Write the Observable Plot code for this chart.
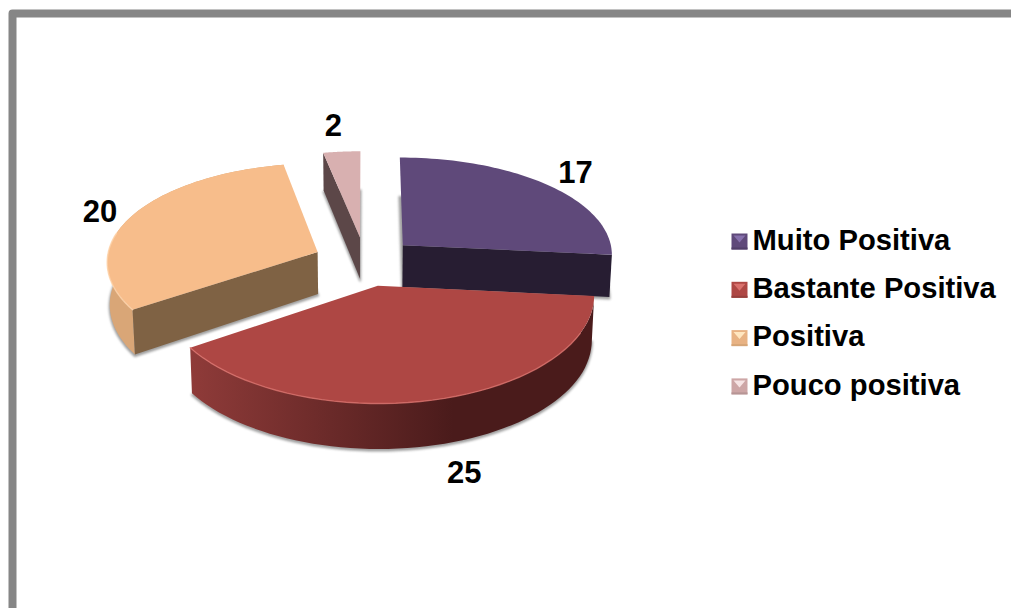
<!DOCTYPE html>
<html>
<head>
<meta charset="utf-8">
<script src="https://cdn.jsdelivr.net/npm/d3@7"></script>
<script src="https://cdn.jsdelivr.net/npm/@observablehq/plot@0.6"></script>
<style>html,body{margin:0;padding:0;background:#fff}svg{display:block}</style>
</head>
<body>
<div id="chart"></div>
<script>
const categories = ["Muito Positiva", "Bastante Positiva", "Positiva", "Pouco positiva"];
const values = [17, 25, 20, 2];

const topFills = ["#5F497A", "#AE4744", "#F7BD8B", "#D8B0B0"];
const faceFills = ["#271D32", "none", "#7F6244", "#5C4748"];
const arcFills = [null, "url(#redWall)", "#D9A677", null];
const edgeGlow = [null, "#D9706C", "#FFD6AE", null];
const swatchTop = ["#8670AC", "#D9706C", "#FFE6C0", "#F6E4E4"];
const swatchSide = ["#5F497A", "#AE4744", "#E8B283", "#CDA6A6"];
const swatchLow = ["#513E69", "#96403D", "#D6A678", "#B69595"];
const labelNudge = [[2, 0], [15, 47], [4, 3], [-5, -10]];

// view of the tilted pie
const view = {X0: 364.5, Y0: 260.8, A: 211, B: 100, kx: 0.086, ky: 0.105, depth: 42.5, maxDepth: 45.5, shrink: 0.99, explode: 0.245};
function project(u, v, low = false) {
  const wx = 1 - view.kx * v, wy = 1 - view.ky * v;
  let X = view.X0 + view.A * u / wx, Y = view.Y0 + view.B * v / wy;
  if (low) { X = view.X0 + (X - view.X0) * view.shrink; Y += Math.min(view.maxDepth, view.depth / wy); }
  return {x: X, y: Y};
}
const deg = Math.PI / 180;
const total = d3.sum(values);
let cum = 0;
const slices = values.map((value, i) => {
  const a0 = cum / total * 360; cum += value; const a1 = cum / total * 360;
  const mid = (a0 + a1) / 2;
  return {i, value, a0, a1, mid, ou: Math.sin(mid * deg) * view.explode, ov: -Math.cos(mid * deg) * view.explode};
});
const at = (s, theta, r = 1, low = false) =>
  project(s.ou + r * Math.sin(theta * deg), s.ov - r * Math.cos(theta * deg), low);
const arc = (s, low = false) => d3.range(0, 61).map(k => at(s, s.a0 + (s.a1 - s.a0) * k / 60, 1, low));
const topShape = s => [at(s, 0, 0), ...arc(s)];
const lowShape = s => [at(s, 0, 0, true), ...arc(s, true)];
const poly = (pts, fill, extra = {}) =>
  Plot.line(pts, {x: "x", y: "y", curve: "linear-closed", fill, stroke: "none", ...extra});

const pieMarks = [];
[...slices].sort((p, q) => p.ov - q.ov).forEach(s => {
  const i = s.i;
  pieMarks.push(poly(lowShape(s).map(p => ({x: p.x, y: p.y + 1.5})), "#8a8a8a",
    {stroke: "#8a8a8a", strokeWidth: 2.5, imageFilter: "blur(1.3px)", fillOpacity: 0.75, strokeOpacity: 0.6}));
  if (arcFills[i]) pieMarks.push(poly([...arc(s), ...arc(s, true).reverse()], arcFills[i]));
  if (faceFills[i] !== "none") {
    const th = -Math.sin(s.a0 * deg) > Math.sin(s.a1 * deg) ? s.a0 : s.a1;
    pieMarks.push(poly([at(s, th, 0), at(s, th), at(s, th, 1, true), at(s, th, 0, true)], faceFills[i]));
  }
  pieMarks.push(poly(topShape(s), topFills[i]));
  if (edgeGlow[i]) {
    const start = i === 2 ? s.a0 : s.a0 + 20;
    const end = i === 2 ? s.a0 + 45 : s.a1;
    const glow = d3.range(0, 41).map(k => at(s, start + (end - start) * k / 40));
    pieMarks.push(Plot.line(glow, {x: "x", y: "y", stroke: edgeGlow[i], strokeWidth: 1.4, strokeOpacity: 0.8}));
  }
});

const labels = slices.map(s => {
  const p = at(s, s.mid, 1.2);
  return {x: p.x + labelNudge[s.i][0], y: p.y + labelNudge[s.i][1], text: String(s.value)};
});

const legend = {x: 739, y: 241, step: 48.3, half: 8, textX: 752};
const swatchMarks = [];
categories.forEach((c, i) => {
  const cy = legend.y + i * legend.step, cx = legend.x, h = legend.half, n = {x: cx, y: cy + 1};
  const tl = {x: cx - h, y: cy - h}, tr = {x: cx + h, y: cy - h}, bl = {x: cx - h, y: cy + h}, br = {x: cx + h, y: cy + h};
  swatchMarks.push(poly([tl, tr, br, bl], swatchSide[i]));
  swatchMarks.push(poly([{x: cx - h + 2, y: cy - h + 2}, {x: cx + h - 2, y: cy - h + 2}, n], swatchTop[i]));
  swatchMarks.push(poly([{x: cx - h, y: cy + h - 2}, {x: cx + h, y: cy + h - 2}, br, bl], swatchLow[i]));
});

const redWall = () => {
  const defs = d3.create("svg:defs");
  const g = defs.append("linearGradient").attr("id", "redWall").attr("gradientUnits", "userSpaceOnUse")
    .attr("x1", 190).attr("x2", 453).attr("y1", 0).attr("y2", 0);
  g.append("stop").attr("offset", 0).attr("stop-color", "#8F3B39");
  g.append("stop").attr("offset", 1).attr("stop-color", "#4A1B1B");
  return defs.node();
};

const frame = [{x: 12, y: 608}, {x: 12, y: 13}, {x: 1011, y: 13}];

const chart = Plot.plot({
  width: 1011, height: 608,
  margin: 0,
  style: {background: "#fff", fontFamily: "'Liberation Sans', Arial, sans-serif"},
  x: {domain: [0, 1011], range: [0, 1011], axis: null},
  y: {domain: [0, 608], range: [0, 608], axis: null},
  marks: [
    redWall,
    Plot.line(frame, {x: "x", y: "y", stroke: "#868686", strokeWidth: 8, strokeLinejoin: "round"}),
    ...pieMarks,
    Plot.text(labels, {x: "x", y: "y", text: "text", fontSize: 31, fontWeight: "bold", fill: "#000"}),
    ...swatchMarks,
    Plot.text(categories, {x: legend.textX, y: (d, i) => legend.y - 1 + i * legend.step, text: d => d, textAnchor: "start", fontSize: 29.2, fontWeight: "bold", fill: "#000"})
  ]
});
document.getElementById("chart").append(chart);
</script>
</body>
</html>
